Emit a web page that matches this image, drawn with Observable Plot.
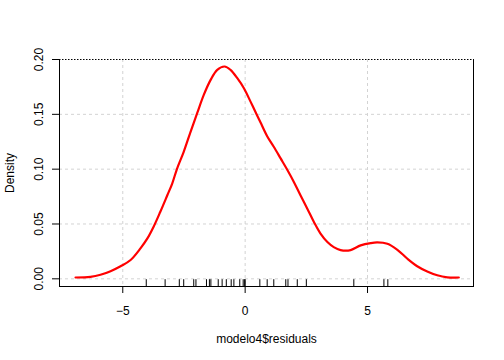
<!DOCTYPE html>
<html>
<head>
<meta charset="utf-8">
<script src="https://cdn.jsdelivr.net/npm/d3@7"></script>
<script src="https://cdn.jsdelivr.net/npm/@observablehq/plot@0.6"></script>
<style>
  html, body { margin: 0; padding: 0; background: #fff; }
  svg { display: block; }
</style>
</head>
<body>
<div id="chart"></div>
<script>
// Density curve (residual value, density)
const densX = [-6.93, -6.32, -5.91, -5.50, -5.09, -4.68, -4.27, -4.00, -3.73, -3.47, -3.18, -2.98, -2.78, -2.51, -2.23, -1.96, -1.69, -1.41, -1.14, -0.84, -0.60, -0.32, -0.05, 0.22, 0.49, 0.63, 0.90, 1.17, 1.45, 1.72, 1.99, 2.26, 2.54, 2.81, 3.08, 3.36, 3.62, 3.90, 4.31, 4.72, 5.13, 5.40, 5.81, 6.22, 6.63, 7.03, 7.44, 7.85, 8.26, 8.73];
const densY = [0.0012, 0.0018, 0.0037, 0.0070, 0.0115, 0.0172, 0.0280, 0.0366, 0.0480, 0.0609, 0.0762, 0.0869, 0.1006, 0.1158, 0.1341, 0.1510, 0.1677, 0.1814, 0.1906, 0.1936, 0.1906, 0.1830, 0.1738, 0.1616, 0.1490, 0.1425, 0.1300, 0.1204, 0.1098, 0.0995, 0.0884, 0.0762, 0.0640, 0.0518, 0.0412, 0.0335, 0.0289, 0.0262, 0.0262, 0.0305, 0.0326, 0.0332, 0.0320, 0.0265, 0.0183, 0.0115, 0.0067, 0.0032, 0.0014, 0.0012];
// Rug: the individual residuals
const rugX = [-4.04, -3.27, -2.69, -2.51, -2.10, -2.01, -1.58, -1.46, -1.40, -1.10, -0.94, -0.77, -0.57, -0.46, -0.22, -0.08, -0.02, 0.00, 0.60, 0.90, 1.17, 1.66, 1.75, 2.13, 2.50, 4.44, 5.67, 5.83];
const xTicks = [-5, 0, 5];
const yTicks = [0.00, 0.05, 0.10, 0.15, 0.20];
const xLabel = "modelo4$residuals";
const yLabel = "Density";

const xDomain = [-7.585, 9.33];
const yDomain = [-0.007, 0.2];
const density = densX.map((x, i) => ({x, y: densY[i]}));
const rugLen = 0.03 * (yDomain[1] - yDomain[0]);

const chart = Plot.plot({
  width: 504,
  height: 360,
  marginLeft: 59,
  marginRight: 31,
  marginTop: 59,
  marginBottom: 74,
  style: {fontFamily: "'Liberation Sans', Arial, sans-serif", fontSize: "12px", background: "#fff", color: "#000"},
  x: {domain: xDomain},
  y: {domain: yDomain},
  marks: [
    Plot.gridX(xTicks, {stroke: "#d3d3d3", strokeOpacity: 1, strokeDasharray: "3,3"}),
    Plot.gridY(yTicks.slice(0, 4), {stroke: "#d3d3d3", strokeOpacity: 1, strokeDasharray: "3,3"}),
    Plot.ruleY([yTicks[4]], {stroke: "#000", strokeDasharray: "1.5,1.5"}),
    Plot.frame({anchor: "left", stroke: "#000"}),
    Plot.frame({anchor: "right", stroke: "#000"}),
    Plot.frame({anchor: "bottom", stroke: "#000"}),
    Plot.ruleX(rugX, {x: d => d, y1: () => yDomain[0], y2: () => yDomain[0] + rugLen, stroke: "#000"}),
    Plot.line(density, {x: "x", y: "y", stroke: "#ff0000", strokeWidth: 2.2, curve: "catmull-rom"}),
    Plot.axisX(xTicks, {tickSize: 7, tickPadding: 13, label: xLabel, labelAnchor: "center", labelArrow: "none", labelOffset: 56, fill: "#000"}),
    Plot.axisY(yTicks, {tickSize: 7, tickPadding: 10, tickFormat: d3.format(".2f"), tickRotate: -90, label: yLabel, labelAnchor: "center", labelArrow: "none", labelOffset: 54, fill: "#000"})
  ]
});
document.getElementById("chart").appendChild(chart);
</script>
</body>
</html>
